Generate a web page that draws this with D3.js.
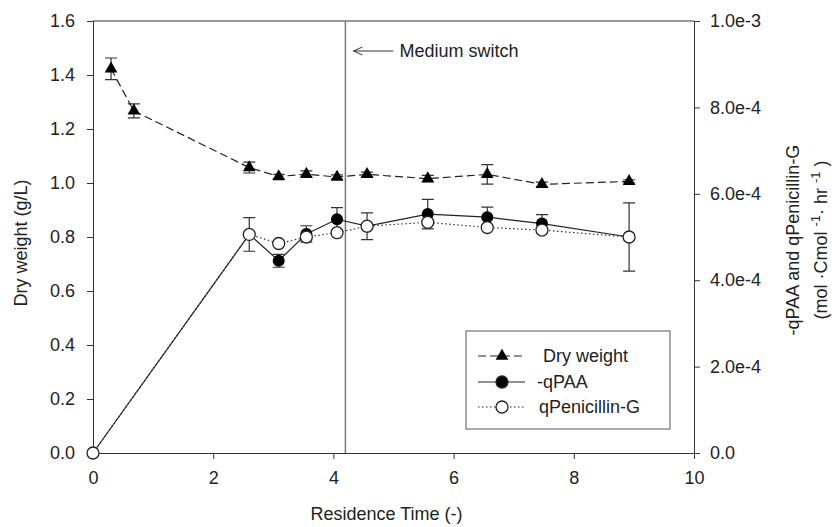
<!DOCTYPE html>
<html>
<head>
<meta charset="utf-8">
<script src="https://cdn.jsdelivr.net/npm/d3@7/dist/d3.min.js"></script>
<style>
  body { margin: 0; background: white; }
  text { font-family: "Liberation Sans", Arial, sans-serif; fill: #222; }
</style>
</head>
<body>
<div id="chart"></div>
<script>
// Data
let dryTime = [0.3, 0.68, 2.6, 3.09, 3.55, 4.06, 4.56, 5.57, 6.56, 7.47, 8.92]
let dryWeight = [1.423, 1.267, 1.057, 1.024, 1.033, 1.022, 1.032, 1.016, 1.032, 0.995, 1.006]
let dryErr = [0.04, 0.026, 0.02, 0.008, 0.012, 0.008, 0.008, 0.012, 0.036, 0.008, 0.006]

let qTime = [0, 2.6, 3.09, 3.55, 4.06, 4.56, 5.57, 6.56, 7.47, 8.92]
let qPAA = [0, 5.06e-4, 4.45e-4, 5.07e-4, 5.41e-4, 5.25e-4, 5.53e-4, 5.46e-4, 5.31e-4, 5.0e-4]
let qPAAErr = [0, 3.9e-5, 1.5e-5, 1.9e-5, 2.7e-5, 3.1e-5, 3.4e-5, 2.3e-5, 2.1e-5, 7.9e-5]
let qPen = [0, 5.06e-4, 4.85e-4, 5.0e-4, 5.1e-4, 5.25e-4, 5.34e-4, 5.22e-4, 5.16e-4, 5.0e-4]

let xTicks = [0, 2, 4, 6, 8, 10]
let yLeftTicks = [0, 0.2, 0.4, 0.6, 0.8, 1.0, 1.2, 1.4, 1.6]
let yRightTicks = [0, 2e-4, 4e-4, 6e-4, 8e-4, 1e-3]
let rightTickLabels = ['0.0', '2.0e-4', '4.0e-4', '6.0e-4', '8.0e-4', '1.0e-3']
let switchTime = 4.2
let legendNames = ['Dry weight', '-qPAA', 'qPenicillin-G']

// Setup
let width = 835
let height = 527
let plot = { left: 93, right: 694, top: 21, bottom: 453 }

let svg = d3.select('#chart').append('svg')
  .attr('width', width)
  .attr('height', height)

let x = d3.scaleLinear().domain([0, 10]).range([plot.left, plot.right])
let yLeft = d3.scaleLinear().domain([0, 1.6]).range([plot.bottom, plot.top])
let yRight = d3.scaleLinear().domain([0, 1e-3]).range([plot.bottom, plot.top])

let fontSize = '18px'

// Axes
let xAxis = svg.append('g')
  .attr('transform', `translate(0,${plot.bottom})`)
  .call(d3.axisBottom(x).tickValues(xTicks).tickFormat(d3.format('d')).tickSize(6).tickPadding(12))
let leftAxis = svg.append('g')
  .attr('transform', `translate(${plot.left},0)`)
  .call(d3.axisLeft(yLeft).tickValues(yLeftTicks).tickFormat(d3.format('.1f')).tickSize(6).tickPadding(12))
let rightAxis = svg.append('g')
  .attr('transform', `translate(${plot.right},0)`)
  .call(d3.axisRight(yRight).tickValues(yRightTicks).tickFormat((d, i) => rightTickLabels[i]).tickSize(6).tickPadding(10))

;[xAxis, leftAxis, rightAxis].forEach(function (a) {
  a.select('.domain').attr('stroke', '#333')
  a.selectAll('.tick line').attr('stroke', '#333')
  a.selectAll('.tick text').style('font-size', fontSize).attr('fill', '#222')
})

// top frame line
svg.append('line')
  .attr('x1', plot.left).attr('x2', plot.right)
  .attr('y1', plot.top).attr('y2', plot.top)
  .attr('stroke', '#333')

// Axis titles
svg.append('text')
  .attr('transform', `translate(${plot.left + (plot.right - plot.left) / 2 - 7},520)`)
  .attr('text-anchor', 'middle')
  .style('font-size', fontSize)
  .text('Residence Time (-)')

svg.append('text')
  .attr('transform', 'translate(27,243) rotate(-90)')
  .attr('text-anchor', 'middle')
  .style('font-size', fontSize)
  .text('Dry weight (g/L)')

svg.append('text')
  .attr('transform', 'translate(799,240) rotate(-90)')
  .attr('text-anchor', 'middle')
  .style('font-size', fontSize)
  .text('-qPAA and qPenicillin-G')

let unitLabel = svg.append('text')
  .attr('transform', 'translate(827,240) rotate(-90)')
  .attr('text-anchor', 'middle')
  .style('font-size', fontSize)
unitLabel.append('tspan').text('(mol ·Cmol ')
unitLabel.append('tspan').attr('dy', -7).style('font-size', '13px').text('-1')
unitLabel.append('tspan').attr('dy', 7).text('· hr ')
unitLabel.append('tspan').attr('dy', -7).style('font-size', '13px').text('-1')
unitLabel.append('tspan').attr('dy', 7).text(' )')

// Medium switch marker
svg.append('line')
  .attr('x1', x(switchTime)).attr('x2', x(switchTime))
  .attr('y1', plot.top).attr('y2', plot.bottom)
  .attr('stroke', '#777')
  .attr('stroke-width', 1.5)

let arrowY = 51
let arrowX0 = x(switchTime) + 8
svg.append('path')
  .attr('d', `M ${arrowX0 + 40} ${arrowY} L ${arrowX0} ${arrowY} M ${arrowX0 + 9} ${arrowY - 4} L ${arrowX0} ${arrowY} L ${arrowX0 + 9} ${arrowY + 4}`)
  .attr('fill', 'none')
  .attr('stroke', '#333')
svg.append('text')
  .attr('x', arrowX0 + 46)
  .attr('y', arrowY + 6)
  .style('font-size', fontSize)
  .text('Medium switch')

// Lines
let dryLine = d3.line().x((d, i) => x(dryTime[i])).y(d => yLeft(d))
let qLine = d3.line().x((d, i) => x(qTime[i])).y(d => yRight(d))

svg.append('path')
  .attr('d', dryLine(dryWeight))
  .attr('fill', 'none')
  .attr('stroke', '#222')
  .attr('stroke-width', 1.2)
  .attr('stroke-dasharray', '8,4')

svg.append('path')
  .attr('d', qLine(qPen))
  .attr('fill', 'none')
  .attr('stroke', '#333')
  .attr('stroke-width', 1.2)
  .attr('stroke-dasharray', '1.5,2.5')

svg.append('path')
  .attr('d', qLine(qPAA))
  .attr('fill', 'none')
  .attr('stroke', '#222')
  .attr('stroke-width', 1.2)

// Error bars
function errorBars(times, values, errs, scale) {
  let cap = 6
  let path = ''
  times.forEach(function (t, i) {
    if (!errs[i]) return
    let cx = x(t)
    let top = scale(values[i] + errs[i])
    let bottom = scale(values[i] - errs[i])
    path += `M ${cx} ${top} L ${cx} ${bottom} `
    path += `M ${cx - cap} ${top} L ${cx + cap} ${top} M ${cx - cap} ${bottom} L ${cx + cap} ${bottom} `
  })
  svg.append('path')
    .attr('d', path)
    .attr('fill', 'none')
    .attr('stroke', '#333')
    .attr('stroke-width', 1.2)
}
errorBars(dryTime, dryWeight, dryErr, yLeft)
errorBars(qTime, qPAA, qPAAErr, yRight)

// Markers
let triangle = d3.symbol().type(d3.symbolTriangle).size(70)

svg.selectAll('path.dry-point')
  .data(dryWeight)
  .enter()
  .append('path')
  .attr('class', 'dry-point')
  .attr('d', triangle)
  .attr('transform', (d, i) => `translate(${x(dryTime[i])},${yLeft(d)})`)
  .attr('fill', 'black')

svg.selectAll('circle.paa-point')
  .data(qPAA)
  .enter()
  .append('circle')
  .attr('class', 'paa-point')
  .attr('cx', (d, i) => x(qTime[i]))
  .attr('cy', d => yRight(d))
  .attr('r', 6)
  .attr('fill', 'black')

svg.selectAll('circle.pen-point')
  .data(qPen)
  .enter()
  .append('circle')
  .attr('class', 'pen-point')
  .attr('cx', (d, i) => x(qTime[i]))
  .attr('cy', d => yRight(d))
  .attr('r', 6)
  .attr('fill', 'white')
  .attr('stroke', '#222')
  .attr('stroke-width', 1.3)

// Legend
let legend = svg.append('g')
legend.append('rect')
  .attr('x', 466).attr('y', 331)
  .attr('width', 204).attr('height', 98)
  .attr('fill', 'white')
  .attr('stroke', '#555')

let legendRows = [356, 382, 407]
let legendTextX = [543, 537, 539]
let legendDash = ['8,4', null, '1.5,2.5']

legendNames.forEach(function (name, i) {
  let ly = legendRows[i]
  legend.append('line')
    .attr('x1', 478).attr('x2', 525)
    .attr('y1', ly).attr('y2', ly)
    .attr('stroke', '#222')
    .attr('stroke-width', 1.2)
    .attr('stroke-dasharray', legendDash[i])
  if (i === 0) {
    legend.append('path')
      .attr('d', triangle)
      .attr('transform', `translate(502,${ly})`)
      .attr('fill', 'black')
  } else {
    legend.append('circle')
      .attr('cx', 502).attr('cy', ly).attr('r', 6)
      .attr('fill', i === 1 ? 'black' : 'white')
      .attr('stroke', '#222')
      .attr('stroke-width', 1.3)
  }
  legend.append('text')
    .attr('x', legendTextX[i])
    .attr('y', ly + 6)
    .style('font-size', fontSize)
    .text(name)
})
</script>
</body>
</html>
